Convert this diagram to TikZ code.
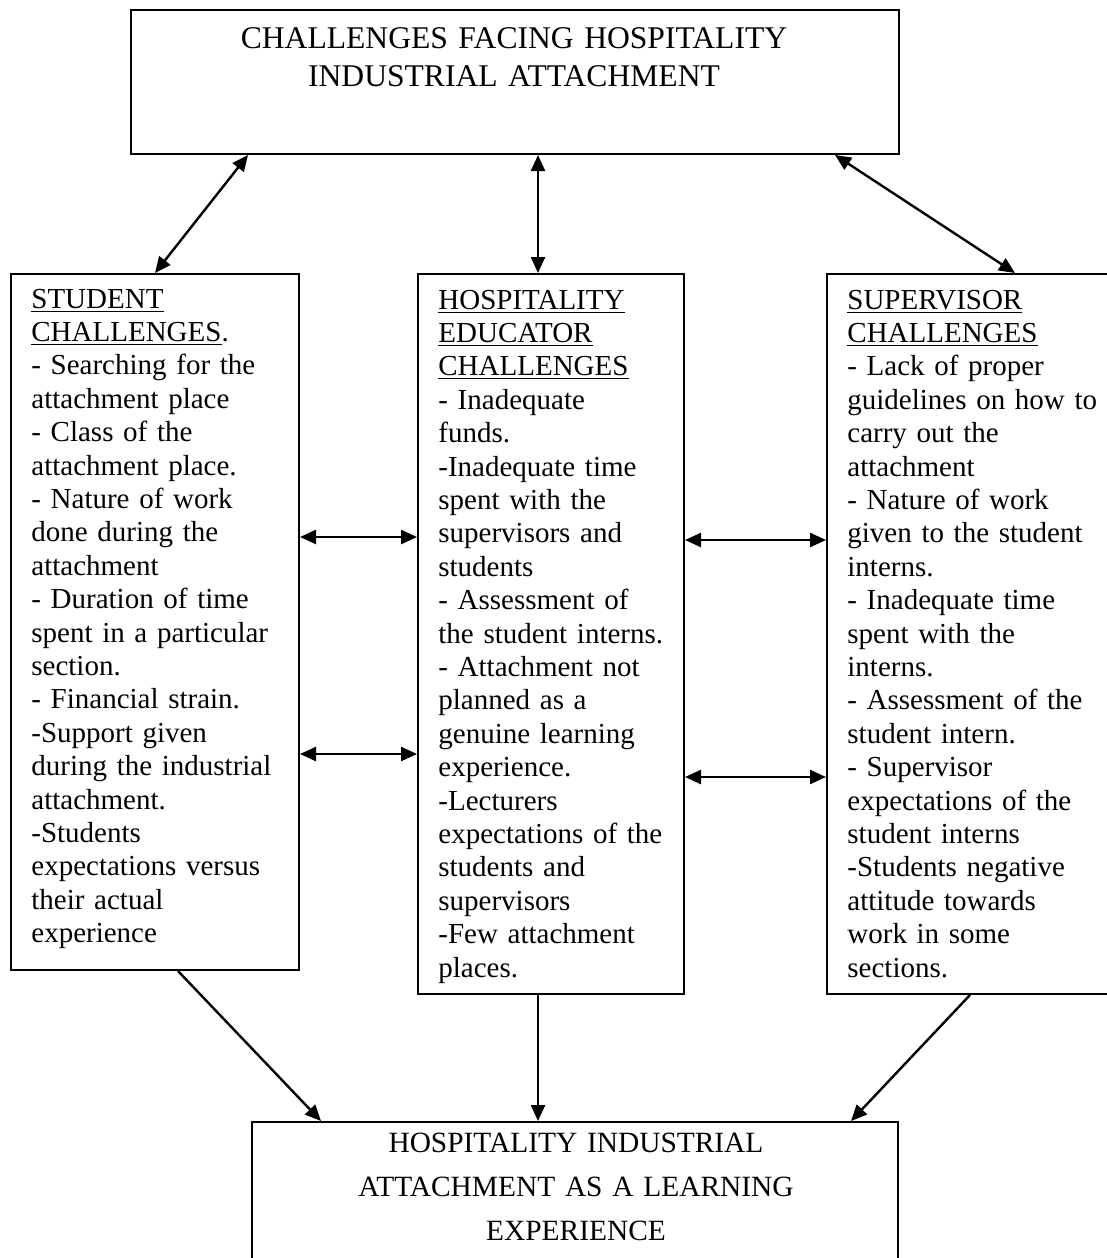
\documentclass[tikz,border=0pt]{standalone}
\usepackage{fontspec}
\setmainfont{Liberation Serif}
\usetikzlibrary{arrows.meta}
\tikzstyle{chbox}=[draw,line width=1pt,anchor=north west,inner sep=0pt]
\tikzstyle{chtext}=[anchor=base west,inner sep=0pt,text width=135pt,align=left,font=\fontsize{14.5}{16.7}\selectfont]
\tikzstyle{headtext}=[anchor=base,inner sep=0pt,align=center]
\tikzstyle{link}=[line width=1.2pt,<->]
\tikzstyle{flow}=[line width=1.2pt,->]
\newcommand{\hd}[1]{\underline{#1}}

\begin{document}
\begin{tikzpicture}[x=0.5pt,y=-0.5pt,>={Triangle[length=8pt,width=7pt]}]
\useasboundingbox (0,0) rectangle (1107,1258);

% top and bottom boxes
\node[chbox,minimum width=384pt,minimum height=72pt] (top) at (130,9) {};
\node[headtext,text width=380pt,font=\fontsize{15.8}{19}\selectfont] (toptext) at (514,48)
  {CHALLENGES FACING HOSPITALITY\\INDUSTRIAL ATTACHMENT};

\node[chbox,minimum width=323pt,minimum height=90pt] (outcome) at (251,1121) {};
\node[headtext,text width=320pt,font=\fontsize{14.7}{22}\selectfont] (outtext) at (576,1152)
  {HOSPITALITY INDUSTRIAL\\ATTACHMENT AS A LEARNING\\EXPERIENCE};

% the three challenge boxes
\node[chbox,minimum width=144pt,minimum height=348pt] (student) at (10,273) {};
\node[chbox,minimum width=133pt,minimum height=360pt] (educator) at (417,273) {};
\node[chbox,minimum width=145pt,minimum height=360pt] (supervisor) at (826,273) {};

\node[chtext] (studtext) at (31,308) {\hd{STUDENT}\\
\hd{CHALLENGES}.\\
- Searching for the\\
attachment place\\
- Class of the\\
attachment place.\\
- Nature of work\\
done during the\\
attachment\\
- Duration of time\\
spent in a particular\\
section.\\
- Financial strain.\\
-Support given\\
during the industrial\\
attachment.\\
-Students\\
expectations versus\\
their actual\\
experience};

\node[chtext] (edutext) at (438,309) {\hd{HOSPITALITY}\\
\hd{EDUCATOR}\\
\hd{CHALLENGES}\\
- Inadequate\\
funds.\\
-Inadequate time\\
spent with the\\
supervisors and\\
students\\
- Assessment of\\
the student interns.\\
- Attachment not\\
planned as a\\
genuine learning\\
experience.\\
-Lecturers\\
expectations of the\\
students and\\
supervisors\\
-Few attachment\\
places.};

\node[chtext] (suptext) at (847,309) {\hd{SUPERVISOR}\\
\hd{CHALLENGES}\\
- Lack of proper\\
guidelines on how to\\
carry out the\\
attachment\\
- Nature of work\\
given to the student\\
interns.\\
- Inadequate time\\
spent with the\\
interns.\\
- Assessment of the\\
student intern.\\
- Supervisor\\
expectations of the\\
student interns\\
-Students negative\\
attitude towards\\
work in some\\
sections.};

% connectors
\draw[link] ([xshift=59pt]top.south west) -- ([xshift=72.5pt]student.north west);
\draw[link] ([xshift=204pt]top.south west) -- ([xshift=60.5pt]educator.north west);
\draw[link] ([xshift=352.5pt]top.south west) -- ([xshift=94.5pt]supervisor.north west);

\draw[link] ([yshift=-132pt]student.north east) -- ([yshift=-132pt]educator.north west);
\draw[link] ([yshift=-240.5pt]student.north east) -- ([yshift=-240.5pt]educator.north west);
\draw[link] ([yshift=-133.5pt]educator.north east) -- ([yshift=-133.5pt]supervisor.north west);
\draw[link] ([yshift=-252pt]educator.north east) -- ([yshift=-252pt]supervisor.north west);

\draw[flow] ([xshift=84pt]student.south west) -- ([xshift=35pt]outcome.north west);
\draw[flow] ([xshift=60.5pt]educator.south west) -- ([xshift=143.5pt]outcome.north west);
\draw[flow] ([xshift=72pt]supervisor.south west) -- ([xshift=300pt]outcome.north west);

\end{tikzpicture}
\end{document}
